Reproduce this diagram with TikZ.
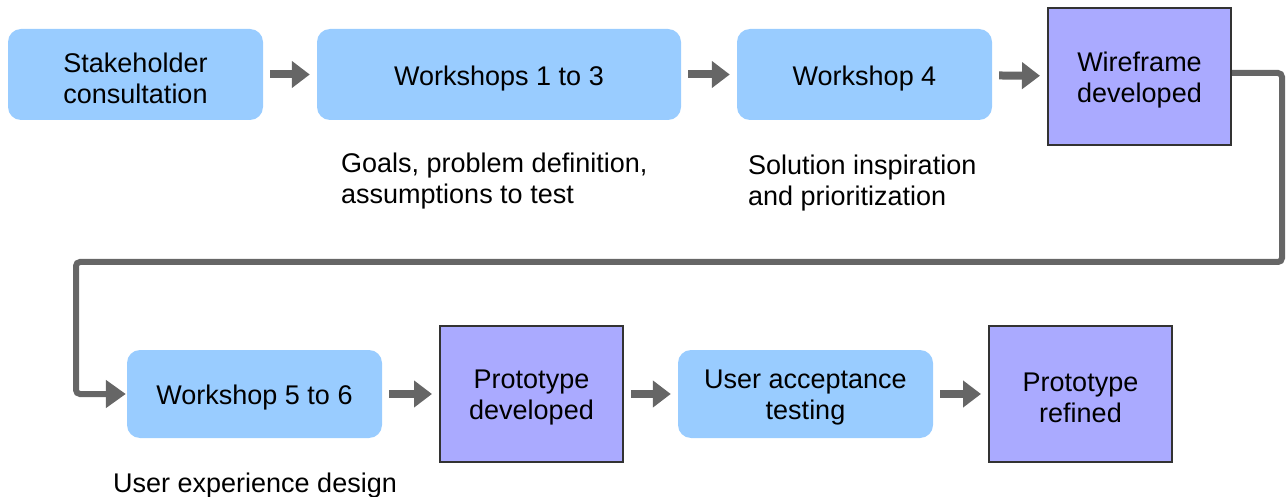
\documentclass[tikz,border=0pt]{standalone}
\usepackage{fontspec}
\setmainfont{Liberation Sans}
\usetikzlibrary{arrows.meta}
\definecolor{lblue}{RGB}{153,204,255}
\definecolor{lpurple}{RGB}{170,170,255}
\definecolor{agray}{RGB}{102,102,102}
\definecolor{bdark}{RGB}{51,51,51}
\begin{document}
\begin{tikzpicture}[x=1pt,y=-1pt,
  every node/.style={font=\fontsize{27}{31}\selectfont},
  rbox/.style={fill=lblue,rounded corners=13pt,inner sep=0pt},
  pbox/.style={fill=lpurple,draw=bdark,line width=2pt,inner sep=0pt},
  btext/.style={align=center,inner sep=0pt},
  note/.style={align=left,inner sep=0pt,anchor=west},
  flow/.style={agray,line width=8pt,-{Triangle[length=18pt,width=26pt]},shorten <=7pt,shorten >=7pt},
  loop/.style={agray,line width=6pt,rounded corners=4pt,-{Triangle[length=20pt,width=27pt]},shorten >=1pt}]
\useasboundingbox (0,0) rectangle (1286,497);
\node[rbox,minimum width=255pt,minimum height=91pt] (s) at (135.5,74.5) {};
\node[rbox,minimum width=364pt,minimum height=91pt] (w13) at (499,74.5) {};
\node[rbox,minimum width=255pt,minimum height=91pt] (w4) at (864.5,74.5) {};
\node[pbox,minimum width=183pt,minimum height=137pt] (wf) at (1139.5,76.5) {};
\node[rbox,minimum width=255pt,minimum height=88pt] (w56) at (254.5,394) {};
\node[pbox,minimum width=183pt,minimum height=136pt] (pd) at (531.5,394) {};
\node[rbox,minimum width=255pt,minimum height=88pt] (uat) at (805.5,394) {};
\node[pbox,minimum width=183pt,minimum height=136pt] (pr) at (1080.5,394) {};
\node[btext] (s-t) at ([yshift=-4pt]s.center) {Stakeholder\\consultation};
\node[btext] (w13-t) at ([yshift=-4pt]w13.center) {Workshops 1 to 3};
\node[btext] (w4-t) at ([yshift=-4pt]w4.center) {Workshop 4};
\node[btext] (wf-t) at ([yshift=-4pt]wf.center) {Wireframe\\developed};
\node[btext] (w56-t) at ([yshift=-4pt]w56.center) {Workshop 5 to 6};
\node[btext] (pd-t) at ([yshift=-4pt]pd.center) {Prototype\\developed};
\node[btext] (uat-t) at ([yshift=-4pt]uat.center) {User acceptance\\testing};
\node[btext] (pr-t) at ([yshift=-4pt]pr.center) {Prototype\\refined};
\node[note] (n1) at (341,181) {Goals, problem definition,\\assumptions to test};
\node[note] (n2) at (748,183) {Solution inspiration\\and prioritization};
\node[note] (n3) at (113,486) {User experience design};
\draw[flow] (s) -- (w13);
\draw[flow] (w13) -- (w4);
\draw[flow] (w4) -- (wf);
\draw[flow] (w56) -- (pd);
\draw[flow] (pd) -- (uat);
\draw[flow] (uat) -- (pr);
\coordinate (c1) at (1282,262);
\coordinate (c2) at (76,262);
\draw[loop] (wf.east |- 0,73) -| (c1) -- (c2) |- (w56.west);
\end{tikzpicture}
\end{document}
